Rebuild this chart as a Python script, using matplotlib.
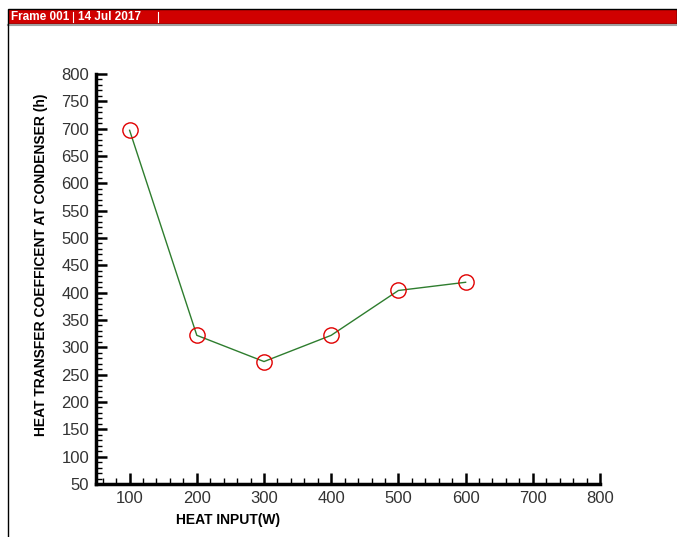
import matplotlib.pyplot as plt
from matplotlib.patches import Rectangle
from matplotlib.lines import Line2D
from matplotlib.ticker import MultipleLocator

plt.rcParams['font.family'] = ['Liberation Sans', 'DejaVu Sans']

# data
heat_input = [100, 200, 300, 400, 500, 600]
h_condenser = [697, 322, 274, 322, 404, 419]

fig = plt.figure(figsize=(6.77, 5.37), dpi=100)
W, H = 677, 537

# frame header bar
bar = Rectangle((8 / W, 1 - 24 / H), 1 - 8 / W, 15 / H, transform=fig.transFigure,
                facecolor='#d00000', edgecolor='black', linewidth=1)
fig.patches.append(bar)
fig.lines.append(Line2D([8 / W, 1], [1 - 25 / H] * 2, transform=fig.transFigure,
                        color='#a0a0a0', linewidth=1.5))
fig.lines.append(Line2D([8 / W, 8 / W], [0, 1 - 24 / H], transform=fig.transFigure,
                        color='black', linewidth=1))
fig.text(11 / W, 1 - 17 / H, 'Frame 001', color='white', fontsize=8.5,
         fontweight='bold', va='center', ha='left')
fig.text(78 / W, 1 - 17 / H, '14 Jul 2017', color='white', fontsize=8.5,
         fontweight='bold', va='center', ha='left')
for xp in (73, 158):
    fig.lines.append(Line2D([xp / W, xp / W], [1 - 22 / H, 1 - 12 / H],
                            transform=fig.transFigure, color='white', linewidth=0.8))

ax = fig.add_axes([96 / W, 53 / H, 504 / W, 410 / H])
ax.plot(heat_input, h_condenser, color='#2e7d2e', linewidth=1, zorder=2)
ax.plot(heat_input, h_condenser, linestyle='none', marker='o', markersize=11,
        markerfacecolor='none', markeredgecolor='#e00000', markeredgewidth=1, zorder=3)

ax.set_xlim(50, 800)
ax.set_ylim(50, 800)
ax.xaxis.set_major_locator(MultipleLocator(100))
ax.xaxis.set_minor_locator(MultipleLocator(20))
ax.yaxis.set_major_locator(MultipleLocator(50))
ax.yaxis.set_minor_locator(MultipleLocator(10))
ax.set_xticks(range(100, 801, 100))

for side in ('top', 'right'):
    ax.spines[side].set_visible(False)
for side in ('left', 'bottom'):
    ax.spines[side].set_linewidth(2.5)

ax.tick_params(which='major', direction='in', length=8, width=1.8,
               labelsize=12, pad=5, colors='black', labelcolor='#333333')
ax.tick_params(which='minor', direction='in', length=4, width=1)

ax.set_xlabel('HEAT INPUT(W)', fontsize=10, fontweight='bold')
ax.set_ylabel('HEAT TRANSFER COEFFICENT AT CONDENSER (h)', fontsize=10,
              fontweight='bold')
ax.xaxis.set_label_coords(0.262, -0.071)
ax.yaxis.set_label_coords(-0.095, 0.534)

fig.savefig('out.png', dpi=100)
